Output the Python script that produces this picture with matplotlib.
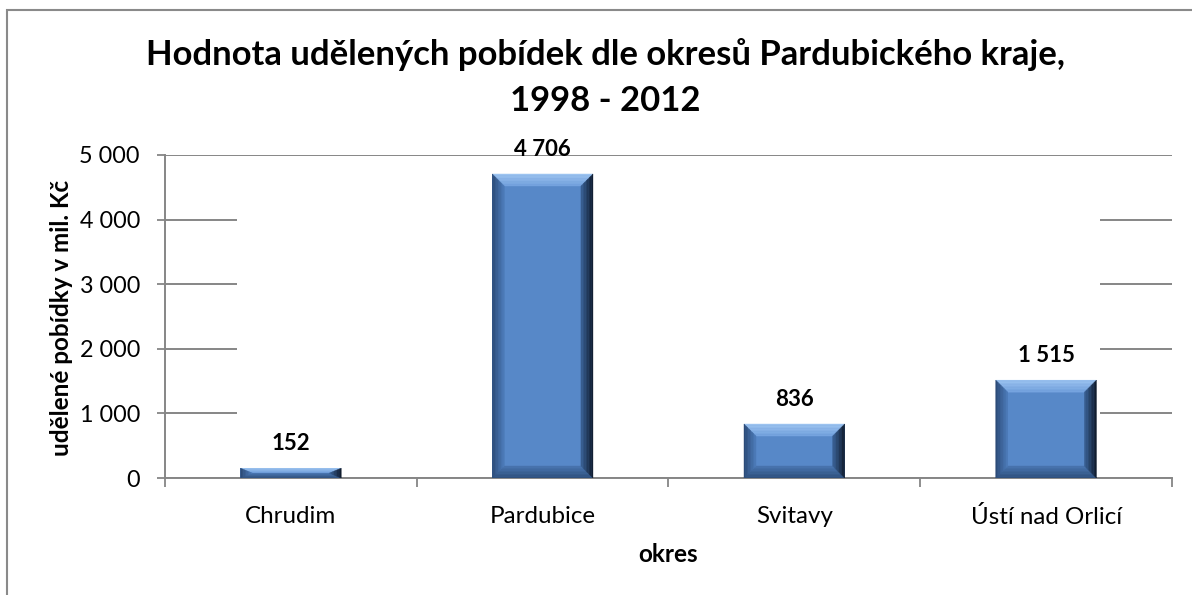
import numpy as np
import matplotlib
matplotlib.use('Agg')
import matplotlib.pyplot as plt
from matplotlib.patches import Polygon, Rectangle
from matplotlib.colors import to_rgb

plt.rcParams['font.family'] = ['Lato', 'DejaVu Sans']

okresy = ['Chrudim', 'Pardubice', 'Svitavy', 'Ústí nad Orlicí']
hodnoty = [152, 4706, 836, 1515]
labels = ['152', '4 706', '836', '1 515']
yticks = [0, 1000, 2000, 3000, 4000, 5000]
ytick_labels = ['0', '1 000', '2 000', '3 000', '4 000', '5 000']

title1 = 'Hodnota udělených pobídek dle okresů Pardubického kraje,'
title2 = '1998 - 2012'

GRAY = '#868686'
FACE = '#5788c8'


def mix(c1, c2, t):
    a = np.array(to_rgb(c1))
    b = np.array(to_rgb(c2))
    return tuple(a + (b - a) * t)


fig = plt.figure(figsize=(11.92, 5.95), dpi=100)
renderer = fig.canvas.get_renderer()


def fit_size(s, width_px, weight='normal'):
    # font size (pt) so that the text s is width_px wide
    t = fig.text(0, 0, s, fontsize=10, fontweight=weight)
    w = t.get_window_extent(renderer).width
    t.remove()
    return 10 * width_px / w


fs_title = fit_size(title1, 922, 'bold')
fs_ytick = fit_size('5 000', 60)
fs_xtick = np.mean([fit_size('Chrudim', 92), fit_size('Pardubice', 107),
                    fit_size('Svitavy', 75), fit_size('Ústí nad Orlicí', 150)])
fs_lab = np.mean([fit_size('okres', 59, 'bold'),
                  fit_size('udělené pobídky v mil. Kč', 281, 'bold')])
fs_data = np.mean([fit_size('4 706', 58, 'bold'), fit_size('152', 38, 'bold')])

ax = fig.add_axes([0.1384, 0.1966, 0.8448, 0.5429])

x = np.arange(len(okresy))
bars = ax.bar(x, hodnoty, width=0.4, color=FACE, zorder=3, linewidth=0)

ax.set_xlim(-0.5, len(okresy) - 0.5)
ax.set_ylim(0, 5000)
ax.set_yticks(yticks)
ax.set_yticklabels(ytick_labels)
ax.set_xticks(x)
ax.set_xticklabels(okresy)
ax.set_xticks(np.arange(len(okresy) + 1) - 0.5, minor=True)
ax.tick_params(axis='x', which='major', length=0, pad=20, labelsize=fs_xtick)
ax.tick_params(axis='x', which='minor', length=6.5, width=1.3, color=GRAY)
ax.tick_params(axis='y', length=6, width=1.3, color=GRAY, labelsize=fs_ytick, pad=12)

ax.grid(axis='y', color=GRAY, linewidth=1.4, zorder=0)
ax.set_axisbelow(True)
for s in ['top', 'right']:
    ax.spines[s].set_visible(False)
for s in ['left', 'bottom']:
    ax.spines[s].set_color(GRAY)
    ax.spines[s].set_linewidth(1.4)

# white area hiding middle gridlines as in the original
ax.add_patch(Rectangle((0.0715, 0.04), 0.857, 0.9, transform=ax.transAxes,
                       facecolor='white', edgecolor='none', zorder=1))

# bevel effect
fig.canvas.draw()
px_x = 1.0 / (ax.transData.transform((1, 0))[0] - ax.transData.transform((0, 0))[0])
px_y = 1.0 / (ax.transData.transform((0, 1))[1] - ax.transData.transform((0, 0))[1])
bev = 12
steps = 8
sides = {
    'top': ('#9cc3f0', '#6f9fdc'),
    'bottom': ('#2f507d', '#4a77b3'),
    'left': ('#2c4b78', '#4f7fbf'),
    'right': ('#101c2e', '#3c659c'),
}
for b in bars:
    x0, w, h = b.get_x(), b.get_width(), b.get_height()
    x1 = x0 + w
    bx = min(bev * px_x, w / 2)
    by = min(bev * px_y, h / 2)
    for i in range(steps):
        t0 = i / steps
        t1 = (i + 1) / steps
        ex0, ex1 = x0 + bx * t0, x0 + bx * t1
        fx0, fx1 = x1 - bx * t0, x1 - bx * t1
        ey0, ey1 = h - by * t0, h - by * t1
        gy0, gy1 = by * t0, by * t1
        polys = {
            'top': [(ex0, ey0), (fx0, ey0), (fx1, ey1), (ex1, ey1)],
            'bottom': [(ex0, gy0), (fx0, gy0), (fx1, gy1), (ex1, gy1)],
            'left': [(ex0, gy0), (ex0, ey0), (ex1, ey1), (ex1, gy1)],
            'right': [(fx0, gy0), (fx0, ey0), (fx1, ey1), (fx1, gy1)],
        }
        for k, pts in polys.items():
            c = mix(sides[k][0], sides[k][1], t0)
            ax.add_patch(Polygon(pts, closed=True, facecolor=c, edgecolor=c,
                                 linewidth=0.3, zorder=4))

for xi, v, lab in zip(x, hodnoty, labels):
    ax.annotate(lab, (xi, v), xytext=(0, 10), textcoords='offset points',
                ha='center', va='bottom', fontsize=fs_data, fontweight='bold', zorder=5)

fig.text(668 / 1192, 1 - 555 / 595, 'okres', ha='center', va='center',
         fontsize=fs_lab, fontweight='bold')
fig.text(62 / 1192, 1 - 317.5 / 595, 'udělené pobídky v mil. Kč', ha='center',
         va='center', rotation=90, fontsize=fs_lab, fontweight='bold')

fig.text(0.508, 0.87, title1 + '\n' + title2,
         ha='center', va='center', fontsize=fs_title, fontweight='bold', linespacing=1.55)

# outer frame
fig.add_artist(Rectangle((7 / 1192, -0.05), 1.2, 1 - 10 / 595 + 0.05,
                         transform=fig.transFigure, facecolor='none',
                         edgecolor='#8a8a8a', linewidth=1.5))

fig.savefig('out.png', dpi=100)
